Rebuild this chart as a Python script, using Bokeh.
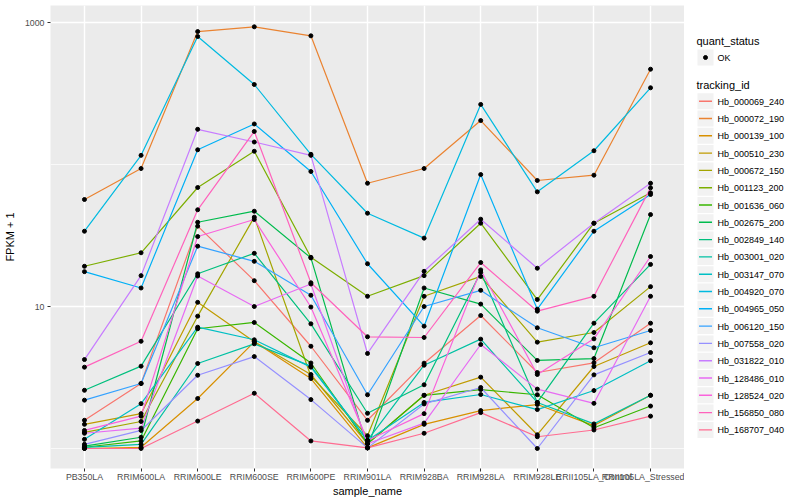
import numpy as np
from bokeh.plotting import figure
from bokeh.models import FixedTicker, Range1d, BasicTickFormatter
from bokeh.layouts import row
from bokeh.embed import file_html
from bokeh.resources import INLINE
from bokeh.core.properties import value

samples = ["PB350LA", "RRIM600LA", "RRIM600LE", "RRIM600SE", "RRIM600PE",
           "RRIM901LA", "RRIM928BA", "RRIM928LA", "RRIM928LE",
           "RRII105LA_Control", "RRII105LA_Stressed"]

tracking_ids = ["Hb_000069_240", "Hb_000072_190", "Hb_000139_100", "Hb_000510_230",
                "Hb_000672_150", "Hb_001123_200", "Hb_001636_060", "Hb_002675_200",
                "Hb_002849_140", "Hb_003001_020", "Hb_003147_070", "Hb_004920_070",
                "Hb_004965_050", "Hb_006120_150", "Hb_007558_020", "Hb_031822_010",
                "Hb_128486_010", "Hb_128524_020", "Hb_156850_080", "Hb_168707_040"]

colors = ["#F8766D", "#EA8331", "#D89000", "#C09B00", "#A3A500", "#7CAE00",
          "#39B600", "#00BB4E", "#00BF7D", "#00C1A3", "#00BFC4", "#00BAE0",
          "#00B0F6", "#35A2FF", "#9590FF", "#C77CFF", "#E76BF3", "#FA62DB",
          "#FF62BC", "#FF6C91"]

# FPKM + 1 per sample, one list per tracking_id
hb_000069_240 = [1.58, 2.87, 36.8, 15.2, 5.25, 1.58, 3.99, 8.64, 3.43, 4.01, 7.63]
hb_000072_190 = [56.7, 93.7, 864, 933, 806, 73.8, 93.7, 204, 77.2, 84.1, 469]
hb_000139_100 = [1.0, 1.02, 2.25, 5.64, 3.11, 1.01, 1.48, 1.85, 2.04, 1.45, 2.37]
hb_000510_230 = [1.48, 1.76, 10.7, 5.64, 3.32, 1.08, 2.37, 3.18, 1.25, 3.78, 5.55]
hb_000672_150 = [1.30, 1.55, 8.55, 42.6, 3.23, 1.23, 11.8, 16.3, 5.61, 6.56, 13.8]
hb_001123_200 = [19.2, 23.9, 68.9, 124, 22.2, 11.8, 16.5, 38.6, 11.2, 38.6, 63.2]
hb_001636_060 = [1.02, 1.13, 6.97, 7.72, 4.0, 1.08, 2.37, 2.60, 2.39, 1.40, 1.99]
hb_002675_200 = [1.04, 1.20, 39.2, 46.9, 22.0, 1.01, 13.5, 10.4, 4.17, 4.30, 44.4]
hb_002849_140 = [2.57, 3.80, 17.0, 23.7, 7.55, 1.77, 2.81, 17.4, 2.11, 7.63, 19.8]
hb_003001_020 = [1.02, 1.07, 3.97, 5.46, 3.80, 1.14, 3.86, 5.89, 2.11, 1.49, 2.37]
hb_003147_070 = [1.16, 2.07, 7.15, 5.83, 3.74, 1.14, 2.11, 2.40, 1.88, 2.56, 4.15]
hb_004920_070 = [33.9, 116, 797, 366, 118, 45.4, 30.3, 265, 64.2, 125, 347]
hb_004965_050 = [17.6, 13.5, 127, 193, 89.3, 20.0, 7.27, 85.0, 9.57, 33.9, 61.5]
hb_006120_150 = [2.19, 2.87, 26.6, 20.8, 12.0, 2.39, 10.0, 13.0, 7.08, 5.12, 6.78]
hb_007558_020 = [1.07, 1.34, 3.28, 4.44, 2.21, 1.01, 2.06, 2.69, 1.00, 3.30, 4.74]
hb_031822_010 = [4.23, 16.5, 177, 144, 116, 4.67, 17.7, 41.2, 18.6, 38.6, 73.8]
hb_128486_010 = [1.28, 1.39, 16.4, 10.0, 14.4, 1.08, 1.51, 5.40, 2.62, 2.08, 11.8]
hb_128524_020 = [1.34, 1.69, 31.1, 41.0, 9.92, 1.14, 1.76, 18.1, 3.32, 5.92, 22.5]
hb_156850_080 = [3.74, 5.69, 48.0, 171, 14.7, 6.12, 6.05, 20.4, 9.27, 11.8, 68.5]
hb_168707_040 = [1.0, 1.0, 1.56, 2.45, 1.13, 1.01, 1.28, 1.79, 1.21, 1.35, 1.69]

series = [hb_000069_240, hb_000072_190, hb_000139_100, hb_000510_230, hb_000672_150,
          hb_001123_200, hb_001636_060, hb_002675_200, hb_002849_140, hb_003001_020,
          hb_003147_070, hb_004920_070, hb_004965_050, hb_006120_150, hb_007558_020,
          hb_031822_010, hb_128486_010, hb_128524_020, hb_156850_080, hb_168707_040]

y_ticks = [10, 1000]
y_minor = [1, 100]
quant_status = ["OK"]

FONT = "Liberation Sans"
xs = list(range(len(samples)))

p = figure(width=684, height=500, output_backend="svg", toolbar_location=None,
           y_axis_type="log", x_range=Range1d(-0.6, len(samples) - 0.4),
           y_range=Range1d(0.723, 1318),
           min_border_left=45, min_border_right=0, min_border_top=5, min_border_bottom=32)
p.background_fill_color = "#EBEBEB"
p.border_fill_color = "white"
p.outline_line_color = None

p.xaxis.ticker = FixedTicker(ticks=xs)
p.xaxis.major_label_overrides = {i: s for i, s in enumerate(samples)}
p.yaxis.ticker = FixedTicker(ticks=y_ticks, minor_ticks=y_minor)
p.yaxis.formatter = BasicTickFormatter(use_scientific=False)
p.yaxis.major_label_overrides = {t: str(t) for t in y_ticks}

for ax in (p.xaxis, p.yaxis):
    ax.axis_line_color = None
    ax.major_tick_line_color = "#333333"
    ax.major_tick_out = 3
    ax.major_tick_in = 0
    ax.minor_tick_line_color = None
    ax.major_label_text_color = "#4D4D4D"
    ax.major_label_text_font = FONT
    ax.major_label_text_font_size = "8.8px"
    ax.axis_label_text_font = FONT
    ax.axis_label_text_font_size = "11px"
    ax.axis_label_text_font_style = "normal"
    ax.axis_label_text_color = "black"

p.xaxis.axis_label = "sample_name"
p.yaxis.axis_label = "FPKM + 1"
p.xaxis.major_label_standoff = 0
p.xaxis.axis_label_standoff = 0
p.yaxis.major_label_standoff = 2
p.yaxis.axis_label_standoff = 6

p.xgrid.grid_line_color = "white"
p.xgrid.grid_line_width = 1.4
p.ygrid.grid_line_color = "white"
p.ygrid.grid_line_width = 1.4
p.ygrid.minor_grid_line_color = "white"
p.ygrid.minor_grid_line_width = 0.7

for vals, col in zip(series, colors):
    p.line(xs, vals, line_color=col, line_width=1.2)
for vals in series:
    p.scatter(xs, vals, size=4, color="black")

# legend panel; its frame is aligned with the main frame (page y 5..468),
# so the range is set to page-pixel coordinates
lg = figure(width=116, height=500, output_backend="svg", toolbar_location=None,
            x_range=Range1d(684, 800), y_range=Range1d(468, 5),
            min_border=0, min_border_top=5, min_border_bottom=32,
            x_axis_location=None, y_axis_location=None)
lg.grid.visible = False
lg.outline_line_color = None
lg.background_fill_color = "white"
lg.border_fill_color = "white"

lg.text([696], [40.5], text=["quant_status"], text_font=value(FONT), text_font_size="11px",
        text_baseline="middle", text_align="left", text_color="black")
lg.rect([705], [57], width=16, height=16, fill_color="#F2F2F2", line_color=None)
lg.scatter([705], [57], size=4, color="black")
lg.text([717], [57.5], text=quant_status, text_font=value(FONT), text_font_size="9px",
        text_baseline="middle", text_align="left", text_color="black")

lg.text([696], [84.5], text=["tracking_id"], text_font=value(FONT), text_font_size="11px",
        text_baseline="middle", text_align="left", text_color="black")
key_y = 100.7 + 17.3 * np.arange(len(tracking_ids))
lg.rect(np.full(len(key_y), 705.0), key_y, width=16, height=16, fill_color="#F2F2F2", line_color=None)
lg.segment(np.full(len(key_y), 698.5), key_y, np.full(len(key_y), 711.5), key_y,
           line_color=colors, line_width=1.4)
lg.text(np.full(len(key_y), 717.0), key_y + 0.5, text=tracking_ids, text_font=value(FONT),
        text_font_size="9px", text_baseline="middle", text_align="left", text_color="black")

layout = row(p, lg, spacing=0)
open("out.html", "w").write(file_html(layout, INLINE))
